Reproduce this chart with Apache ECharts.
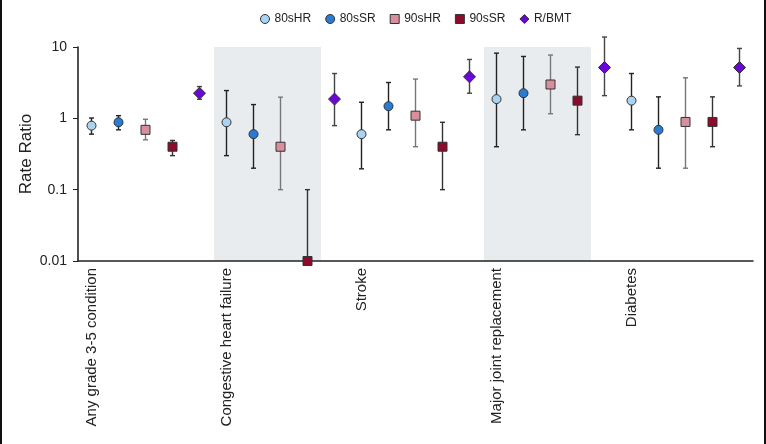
<!DOCTYPE html>
<html><head><meta charset="utf-8">
<script src="https://cdn.jsdelivr.net/npm/echarts@6/dist/echarts.min.js"></script>
<style>html,body{margin:0;padding:0;background:#fff}#c{width:766px;height:444px}</style>
</head><body><div id="c"></div>
<script>
const groups = ['Any grade 3-5 condition', 'Congestive heart failure', 'Stroke', 'Major joint replacement', 'Diabetes'];
const seriesNames = ['80sHR', '80sSR', '90sHR', '90sSR', 'R/BMT'];
const shadedGroups = [1, 3];
const yTicks = [0.01, 0.1, 1, 10];

const est80sHR = [0.79, 0.88, 0.60, 1.86, 1.77];
const lo80sHR  = [0.60, 0.30, 0.196, 0.40, 0.69];
const hi80sHR  = [1.01, 2.45, 1.68, 8.2, 4.25];

const est80sSR = [0.88, 0.60, 1.48, 2.25, 0.69];
const lo80sSR  = [0.69, 0.20, 0.69, 0.69, 0.20];
const hi80sSR  = [1.09, 1.56, 3.18, 7.37, 2.0];

const est90sHR = [0.69, 0.40, 1.09, 2.98, 0.89];
const lo90sHR  = [0.50, 0.10, 0.40, 1.16, 0.20];
const hi90sHR  = [0.97, 1.98, 3.55, 7.71, 3.70];

const est90sSR = [0.40, 0.01, 0.40, 1.77, 0.89];
const lo90sSR  = [0.30, 0.01, 0.10, 0.59, 0.40];
const hi90sSR  = [0.49, 0.10, 0.88, 5.23, 2.0];

const estRBMT = [2.25, 1.86, 3.82, 5.16, 5.16];
const loRBMT  = [1.85, 0.79, 2.25, 2.08, 2.85];
const hiRBMT  = [2.79, 4.25, 6.69, 13.8, 9.55];

const estAll = [est80sHR, est80sSR, est90sHR, est90sSR, estRBMT];
const loAll = [lo80sHR, lo80sSR, lo90sHR, lo90sSR, loRBMT];
const hiAll = [hi80sHR, hi80sSR, hi90sHR, hi90sSR, hiRBMT];

const colors = ['#a9d3f0', '#2a7bd3', '#d88f9d', '#8c0b2b', '#6a06d8'];
const symbols = ['circle', 'circle', 'rect', 'rect', 'diamond'];
const symSizes = [9, 9, 9, 9, 12];
const barColors = ['#222', '#222', '#777', '#333', '#444'];
const FONT = 'Liberation Sans, Arial, sans-serif';

const nG = groups.length, nS = seriesNames.length;
const slots = [];
for (let g = 0; g < nG; g++) for (let s = 0; s < nS; s++) slots.push('g' + g + 's' + s);

const chart = echarts.init(document.getElementById('c'));
const series = [];

series.push({
  type: 'custom', silent: true, z: 0,
  data: shadedGroups.map(g => [g * nS, g * nS + 3]),
  encode: { x: [0, 1] },
  renderItem: function (params, api) {
    const cs = params.coordSys;
    const bw = api.size([1, 0])[0];
    const x0 = api.coord([api.value(0), 1])[0] - bw / 2;
    const x1 = api.coord([api.value(1), 1])[0] + bw / 2;
    return { type: 'rect', shape: { x: x0 + 1, y: cs.y, width: x1 - x0 - 1, height: cs.height }, style: { fill: '#e9ecee' } };
  }
});

for (let s = 0; s < nS; s++) {
  const errData = [], ptData = [];
  for (let g = 0; g < nG; g++) {
    errData.push([g * nS + s, loAll[s][g], hiAll[s][g]]);
    ptData.push([g * nS + s, estAll[s][g]]);
  }
  const bc = barColors[s];
  series.push({
    name: seriesNames[s], type: 'custom', clip: false, z: 2, silent: true,
    data: errData, encode: { x: 0, y: [1, 2] },
    itemStyle: { color: colors[s] },
    renderItem: function (params, api) {
      const x = api.value(0);
      const a = api.coord([x, api.value(1)]);
      const b = api.coord([x, api.value(2)]);
      const cap = 2.5;
      const st = { stroke: bc, lineWidth: 1.4 };
      return { type: 'group', children: [
        { type: 'line', shape: { x1: a[0], y1: a[1], x2: b[0], y2: b[1] }, style: st },
        { type: 'line', shape: { x1: a[0] - cap, y1: a[1], x2: a[0] + cap, y2: a[1] }, style: st },
        { type: 'line', shape: { x1: b[0] - cap, y1: b[1], x2: b[0] + cap, y2: b[1] }, style: st }
      ]};
    }
  });
  series.push({
    name: seriesNames[s], type: 'scatter', z: 3, clip: false,
    symbol: symbols[s], symbolSize: symSizes[s],
    itemStyle: { color: colors[s], borderColor: '#333', borderWidth: 1, opacity: 1 },
    data: ptData
  });
}

chart.setOption({
  animation: false,
  backgroundColor: '#fff',
  textStyle: { fontFamily: FONT },
  graphic: [
    { type: 'rect', shape: { x: 0, y: 0, width: 2, height: 444 }, style: { fill: '#111' } },
    { type: 'rect', shape: { x: 764, y: 0, width: 2, height: 444 }, style: { fill: '#111' } }
  ],
  legend: {
    left: 255, top: 8, itemGap: 14, itemWidth: 9, itemHeight: 9,
    textStyle: { fontFamily: FONT, fontSize: 12, color: '#222' },
    data: seriesNames.map((n, i) => ({ name: n, icon: symbols[i],
      itemStyle: { color: colors[i], borderColor: '#333', borderWidth: 1 } }))
  },
  grid: { left: 78, right: 13, top: 47, bottom: 183, containLabel: false },
  xAxis: {
    type: 'category', data: slots, boundaryGap: true,
    axisLine: { lineStyle: { color: '#222', width: 1.6 } },
    axisTick: { show: false },
    axisLabel: {
      interval: 0, rotate: 90, margin: 7, fontSize: 15, color: '#222', fontFamily: FONT,
      formatter: function (v, i) { return i % nS === 0 ? groups[i / nS] : ''; }
    }
  },
  yAxis: {
    type: 'log', logBase: 10, min: yTicks[0], max: yTicks[yTicks.length - 1],
    name: 'Rate Ratio', nameLocation: 'middle', nameGap: 43, nameMoveOverlap: false,
    nameTextStyle: { fontSize: 17, color: '#222', fontFamily: FONT },
    axisLine: { show: true, lineStyle: { color: '#222', width: 1.6 } },
    axisTick: { show: true, length: 5, lineStyle: { color: '#222' } },
    splitLine: { show: false },
    axisLabel: { fontSize: 14, color: '#222', margin: 11, fontFamily: FONT,
      formatter: function (v) { return String(+v.toPrecision(3)); } }
  },
  series: series
});
</script></body></html>
